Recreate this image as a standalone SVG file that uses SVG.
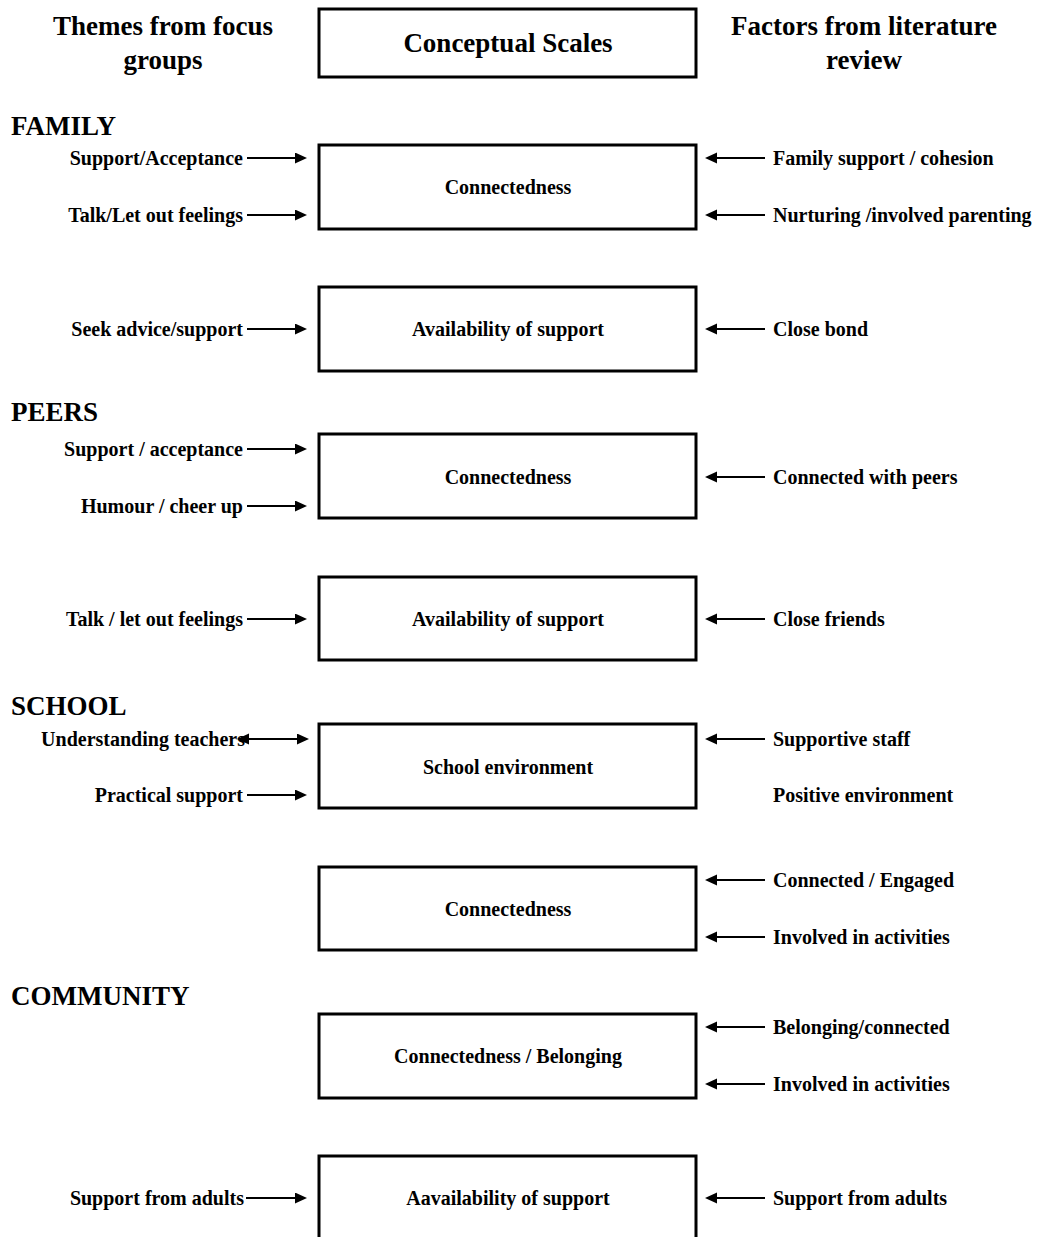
<svg xmlns="http://www.w3.org/2000/svg" width="1044" height="1237" viewBox="0 0 1044 1237">
<style>
text{font-family:"Liberation Serif","Times New Roman",serif;font-weight:bold;fill:#000}
.h{font-size:27px}
.l{font-size:20px}
.c{text-anchor:middle}
.e{text-anchor:end}
.box{fill:#fff;stroke:#000;stroke-width:3}
.arr{stroke:#000;stroke-width:2;fill:none;marker-end:url(#ah)}
.dbl{stroke:#000;stroke-width:2;fill:none;marker-end:url(#ah);marker-start:url(#ah)}
</style>
<defs>
<marker id="ah" markerUnits="userSpaceOnUse" markerWidth="13" markerHeight="12" refX="2" refY="5.5" orient="auto-start-reverse">
<path d="M0,0 L12,5.5 L0,11 z" fill="#000"/>
</marker>
</defs>
<rect width="1044" height="1237" fill="#fff"/>

<g id="headers">
<text class="h c" x="163" y="35">Themes from focus</text>
<text class="h c" x="163" y="69">groups</text>
<text class="h c" x="864" y="35">Factors from literature</text>
<text class="h c" x="864" y="69">review</text>
</g>
<g id="conceptual-scales">
<rect class="box" x="319" y="9" width="377" height="68"/>
<text class="h c" x="508" y="52">Conceptual Scales</text>
</g>

<g id="sections">
<text class="h" x="11" y="135">FAMILY</text>
<text class="h" x="11" y="421">PEERS</text>
<text class="h" x="11" y="715">SCHOOL</text>
<text class="h" x="11" y="1005">COMMUNITY</text>
</g>

<g id="family-connectedness">
<rect class="box" x="319" y="145" width="377" height="84"/>
<text class="l c" x="508" y="194">Connectedness</text>
</g>
<g id="family-availability">
<rect class="box" x="319" y="287" width="377" height="84"/>
<text class="l c" x="508" y="336">Availability of support</text>
</g>
<g id="peers-connectedness">
<rect class="box" x="319" y="434" width="377" height="84"/>
<text class="l c" x="508" y="484">Connectedness</text>
</g>
<g id="peers-availability">
<rect class="box" x="319" y="577" width="377" height="83"/>
<text class="l c" x="508" y="626">Availability of support</text>
</g>
<g id="school-environment">
<rect class="box" x="319" y="724" width="377" height="84"/>
<text class="l c" x="508" y="774">School environment</text>
</g>
<g id="school-connectedness">
<rect class="box" x="319" y="867" width="377" height="83"/>
<text class="l c" x="508" y="916">Connectedness</text>
</g>
<g id="community-connectedness">
<rect class="box" x="319" y="1014" width="377" height="84"/>
<text class="l c" x="508" y="1063">Connectedness / Belonging</text>
</g>
<g id="community-availability">
<path d="M319,1240 V1156 H696 V1240" fill="none" stroke="#000" stroke-width="3"/>
<text class="l c" x="508" y="1205">Aavailability of support</text>
</g>

<g id="left-labels">
<text class="l e" x="243" y="165">Support/Acceptance</text>
<text class="l e" x="243" y="222">Talk/Let out feelings</text>
<text class="l e" x="243" y="336">Seek advice/support</text>
<text class="l e" x="243" y="456">Support / acceptance</text>
<text class="l e" x="243" y="513">Humour / cheer up</text>
<text class="l e" x="243" y="626">Talk / let out feelings</text>
<text class="l e" x="245" y="746">Understanding teachers</text>
<text class="l e" x="243" y="802">Practical support</text>
<text class="l e" x="244" y="1205">Support from adults</text>
</g>

<g id="right-labels">
<text class="l" x="773" y="165">Family support / cohesion</text>
<text class="l" x="773" y="222">Nurturing /involved parenting</text>
<text class="l" x="773" y="336">Close bond</text>
<text class="l" x="773" y="484">Connected with peers</text>
<text class="l" x="773" y="626">Close friends</text>
<text class="l" x="773" y="746">Supportive staff</text>
<text class="l" x="773" y="802">Positive environment</text>
<text class="l" x="773" y="887">Connected / Engaged</text>
<text class="l" x="773" y="944">Involved in activities</text>
<text class="l" x="773" y="1034">Belonging/connected</text>
<text class="l" x="773" y="1091">Involved in activities</text>
<text class="l" x="773" y="1205">Support from adults</text>
</g>

<g id="connectors">
<line class="arr" x1="247" y1="158" x2="297" y2="158"/>
<line class="arr" x1="247" y1="215" x2="297" y2="215"/>
<line class="arr" x1="247" y1="329" x2="297" y2="329"/>
<line class="arr" x1="247" y1="449" x2="297" y2="449"/>
<line class="arr" x1="247" y1="506" x2="297" y2="506"/>
<line class="arr" x1="247" y1="619" x2="297" y2="619"/>
<line class="dbl" x1="247" y1="739" x2="299" y2="739"/>
<line class="arr" x1="247" y1="795" x2="297" y2="795"/>
<line class="arr" x1="246" y1="1198" x2="297" y2="1198"/>

<line class="arr" x1="765" y1="158" x2="715" y2="158"/>
<line class="arr" x1="765" y1="215" x2="715" y2="215"/>
<line class="arr" x1="765" y1="329" x2="715" y2="329"/>
<line class="arr" x1="765" y1="477" x2="715" y2="477"/>
<line class="arr" x1="765" y1="619" x2="715" y2="619"/>
<line class="arr" x1="765" y1="739" x2="715" y2="739"/>
<line class="arr" x1="765" y1="880" x2="715" y2="880"/>
<line class="arr" x1="765" y1="937" x2="715" y2="937"/>
<line class="arr" x1="765" y1="1027" x2="715" y2="1027"/>
<line class="arr" x1="765" y1="1084" x2="715" y2="1084"/>
<line class="arr" x1="765" y1="1198" x2="715" y2="1198"/>
</g>
</svg>
